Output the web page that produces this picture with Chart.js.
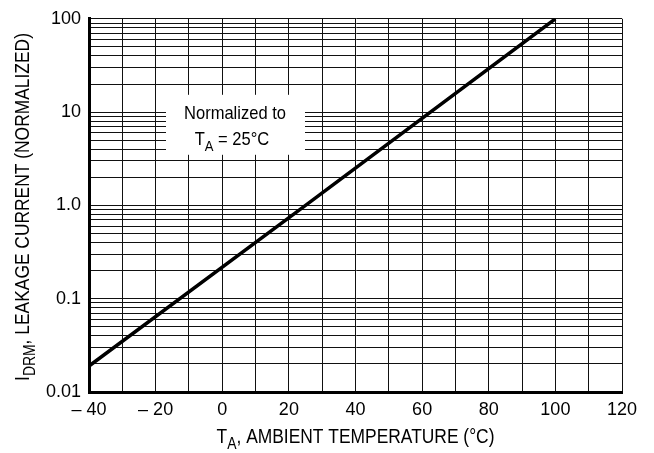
<!DOCTYPE html>
<html>
<head>
<meta charset="utf-8">
<script src="https://cdn.jsdelivr.net/npm/chart.js@4.4.1/dist/chart.umd.min.js"></script>
<style>
  html, body { margin: 0; padding: 0; background: #fff; }
  #wrap { width: 654px; height: 453px; }
</style>
</head>
<body>
<div id="wrap"><canvas id="chart"></canvas></div>
<script>
// normalized leakage current vs ambient temperature
var tempC = [-40, 25, 100];
var leakage = [0.019, 1.0, 100];

var xGrid = [-40, -30, -20, -10, 0, 10, 20, 30, 40, 50, 60, 70, 80, 90, 100, 110, 120];
var xLabelValues = [-40, -20, 0, 20, 40, 60, 80, 100, 120];
var xLabelText = ['\u2013 40', '\u2013 20', '0', '20', '40', '60', '80', '100', '120'];

var yDecades = [0.01, 0.1, 1, 10, 100];
var yDecadeLabels = ['0.01', '0.1', '1.0', '10', '100'];

var FONT = '"Liberation Sans", Arial, sans-serif';
var SQUEEZE = 0.87; // reference type is a condensed face

var yGrid = [];
yDecades.forEach(function(d, i) {
  if (i === yDecades.length - 1) { yGrid.push(d); return; }
  for (var k = 1; k <= 9; k++) yGrid.push(+(d * k).toPrecision(3));
});

function subWidth(ctx, main, sub, rest, size) {
  ctx.font = size + 'px ' + FONT;
  var w = ctx.measureText(main).width + ctx.measureText(rest).width;
  ctx.font = Math.round(size * 0.8) + 'px ' + FONT;
  return (w + ctx.measureText(sub).width) * SQUEEZE;
}

// "main" + subscript + rest, centred on (cx, y)
function subText(ctx, cx, y, main, sub, rest, size) {
  var total = subWidth(ctx, main, sub, rest, size);
  ctx.save();
  ctx.translate(cx - total / 2, y);
  ctx.scale(SQUEEZE, 1);
  ctx.textAlign = 'left';
  ctx.font = size + 'px ' + FONT;
  ctx.fillText(main, 0, 0);
  var w = ctx.measureText(main).width;
  ctx.font = Math.round(size * 0.8) + 'px ' + FONT;
  ctx.fillText(sub, w, size * 0.3);
  w += ctx.measureText(sub).width;
  ctx.font = size + 'px ' + FONT;
  ctx.fillText(rest, w, 0);
  ctx.restore();
}

var labelsPlugin = {
  id: 'labels',
  beforeDatasetsDraw: function(chart) {
    var ctx = chart.ctx, a = chart.chartArea;
    ctx.save();
    // note box
    ctx.fillStyle = '#fff';
    ctx.fillRect(a.left + 77, a.top + 76, 139, 60);
    ctx.fillStyle = '#000';
    ctx.textBaseline = 'alphabetic';
    ctx.save();
    ctx.translate(a.left + 146, a.top + 100);
    ctx.scale(SQUEEZE, 1);
    ctx.textAlign = 'center';
    ctx.font = '19px ' + FONT;
    ctx.fillText('Normalized to', 0, 0);
    ctx.restore();
    subText(ctx, a.left + 143, a.top + 126, 'T', 'A', ' = 25\u00b0C', 19);
    ctx.restore();
  },
  afterDraw: function(chart) {
    var ctx = chart.ctx, a = chart.chartArea;
    ctx.save();
    ctx.fillStyle = '#000';
    ctx.textBaseline = 'alphabetic';
    subText(ctx, (a.left + a.right) / 2, 443, 'T', 'A', ', AMBIENT TEMPERATURE (\u00b0C)', 20);
    ctx.translate(29, 207);
    ctx.rotate(-Math.PI / 2);
    subText(ctx, 0, 0, 'I', 'DRM', ', LEAKAGE CURRENT (NORMALIZED)', 20);
    ctx.restore();
  }
};

new Chart(document.getElementById('chart'), {
  type: 'line',
  data: {
    datasets: [{
      data: tempC.map(function(t, i) { return { x: t, y: leakage[i] }; }),
      borderColor: '#000',
      borderWidth: 3.5,
      pointRadius: 0,
      tension: 0,
      fill: false
    }]
  },
  options: {
    responsive: true,
    maintainAspectRatio: false,
    animation: false,
    layout: { padding: { top: 17, right: 32, left: 0, bottom: 0 } },
    plugins: { legend: { display: false }, tooltip: { enabled: false } },
    scales: {
      x: {
        type: 'linear',
        min: -40,
        max: 120,
        afterBuildTicks: function(s) { s.ticks = xGrid.map(function(v) { return { value: v }; }); },
        afterFit: function(s) { s.height = 61; },
        ticks: {
          autoSkip: false,
          maxRotation: 0,
          padding: 7,
          color: '#000',
          font: { family: FONT, size: 18 },
          callback: function(v) {
            var i = xLabelValues.indexOf(v);
            return i >= 0 ? xLabelText[i] : '';
          }
        },
        grid: { color: '#111', lineWidth: 1, drawTicks: false },
        border: { color: '#000', width: 3 }
      },
      y: {
        type: 'logarithmic',
        min: 0.01,
        max: 100,
        afterBuildTicks: function(s) { s.ticks = yGrid.map(function(v) { return { value: v }; }); },
        afterFit: function(s) { s.width = 89; },
        ticks: {
          autoSkip: false,
          padding: 8,
          color: '#000',
          font: { family: FONT, size: 18 },
          callback: function(v) {
            for (var i = 0; i < yDecades.length; i++) {
              if (Math.abs(v - yDecades[i]) < yDecades[i] * 1e-6) return yDecadeLabels[i];
            }
            return '';
          }
        },
        grid: { color: '#111', lineWidth: 1, drawTicks: false },
        border: { color: '#000', width: 3 }
      }
    }
  },
  plugins: [labelsPlugin]
});
</script>
</body>
</html>
